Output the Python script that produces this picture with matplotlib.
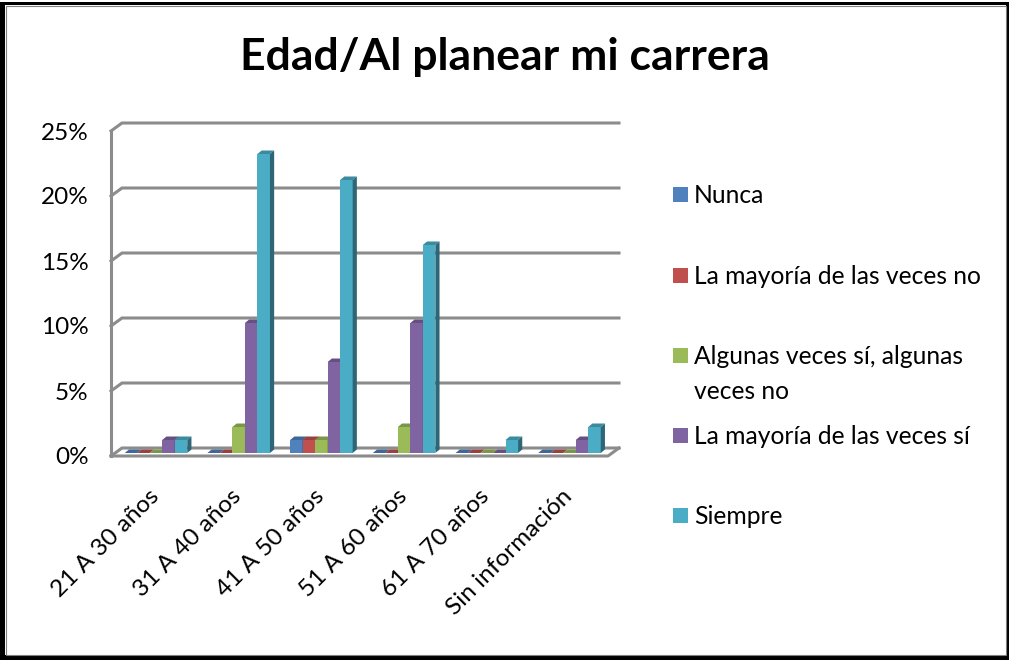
#!/usr/bin/env python3
# Faux-3D clustered column chart: Edad / Al planear mi carrera.

import matplotlib

matplotlib.use("Agg")
import matplotlib.pyplot as plt
from matplotlib.patches import Polygon, Rectangle
from matplotlib.transforms import ScaledTranslation

W, H = 1009, 660

categories = ["21 A 30 años", "31 A 40 años", "41 A 50 años", "51 A 60 años", "61 A 70 años", "Sin información"]
series_names = [
    "Nunca",
    "La mayoría de las veces no",
    "Algunas veces sí, algunas\nveces no",
    "La mayoría de las veces sí",
    "Siempre",
]
nunca = [0, 0, 1, 0, 0, 0]
mayoria_no = [0, 0, 1, 0, 0, 0]
algunas = [0, 2, 1, 2, 0, 0]
mayoria_si = [1, 10, 7, 10, 0, 1]
siempre = [1, 23, 21, 16, 1, 2]
series = [nunca, mayoria_no, algunas, mayoria_si, siempre]
y_ticks = [0, 5, 10, 15, 20, 25]

front = ["#4F81BD", "#C0504D", "#9BBB59", "#8064A2", "#4BACC6"]
top = ["#3F6797", "#9A403E", "#7C9647", "#665082", "#3C8A9E"]
side = ["#2F4D71", "#73302E", "#5D7035", "#4C3C61", "#2D6777"]
legend_y = [194, 275, 355, 435, 515]

FONT = "Lato"
GRID = "#8C8C8C"

fig = plt.figure(figsize=(W / 100, H / 100), dpi=100)

# axes box in pixels: left wall to back right corner, floor to top gridline
left, right, bottom, upper = 111, 619, 456, 123
ax = fig.add_axes([left / W, 1 - bottom / H, (right - left) / W, (bottom - upper) / H])
px_x = 82.7  # pixels per category
px_y = 13.0  # pixels per percent
ax.set_xlim((left - 156) / px_x, (right - 156) / px_x)
ax.set_ylim(-3 / px_y, 330 / px_y)
ax.patch.set_alpha(0)
for s in ax.spines.values():
    s.set_visible(False)

dx = 11 / px_x  # wall depth
dy = 8 / px_y
x0 = ax.get_xlim()[0]
x1 = ax.get_xlim()[1]
y0 = ax.get_ylim()[0]
lw = 2.2

# walls and gridlines
for v in y_ticks:
    ax.plot([x0, x0 + dx, x1], [v + y0, v + y0 + dy, v + y0 + dy], color=GRID, lw=lw,
            solid_joinstyle="miter", clip_on=False, zorder=1)
ax.plot([x0, x0], [y0, 25 + y0], color=GRID, lw=lw, clip_on=False, zorder=1)
ax.plot([x0, x1 - dx, x1], [y0, y0, y0 + dy], color=GRID, lw=lw, clip_on=False, zorder=1)

# columns with top and side faces
bw = 12.5 / px_x
bar_dx = 4.2 / px_x
bar_dy = 3.5 / px_y
for i, vals in enumerate(series):
    for j, v in enumerate(vals):
        xl = j + (i - 2.5) * bw
        xr = xl + bw
        ax.bar(xl, v, width=bw, align="edge", color=front[i], lw=0, zorder=3 + i)
        ax.add_patch(Polygon([(xl, v), (xl + bar_dx, v + bar_dy), (xr + bar_dx, v + bar_dy), (xr, v)],
                             fc=top[i], lw=0, zorder=3 + i))
        ax.add_patch(Polygon([(xr, 0), (xr + bar_dx, bar_dy), (xr + bar_dx, v + bar_dy), (xr, v)],
                             fc=side[i], lw=0, zorder=3 + i))

ax.set_yticks([v + y0 for v in y_ticks])
ax.set_yticklabels([f"{v}%" for v in y_ticks], fontsize=17.5, family=FONT, color="black")
ax.tick_params(axis="y", length=0, pad=16)
ax.set_xticks(range(len(categories)))
ax.set_xticklabels(categories, rotation=45, ha="right", rotation_mode="anchor",
                   fontsize=17.6, family=FONT, color="black")
ax.tick_params(axis="x", length=0, pad=21)
shift = ScaledTranslation(-8 / 100, 0, fig.dpi_scale_trans)
for t in ax.get_xticklabels():
    t.set_transform(t.get_transform() + shift)

fig.text(505 / W, 1 - 57 / H, "Edad/Al planear mi carrera", ha="center", va="center",
         fontsize=32, fontweight="bold", family=FONT, color="black")

# legend, spaced by hand because the wrapped entry breaks the rhythm
for name, c, yp in zip(series_names, front, legend_y):
    fig.add_artist(Rectangle((673 / W, 1 - (yp + 8) / H), 15 / W, 15 / H, transform=fig.transFigure,
                             fc=c, lw=0))
    fig.text(694 / W, 1 - (yp - 10) / H, name, ha="left", va="top", fontsize=17.7, family=FONT,
             color="black", linespacing=1.62)

# picture frame: uneven black band with a thin grey inner edge
for bx, by, bw_, bh in [(0, 2, 5, 658), (1006, 2, 3, 658), (0, 2, 1009, 3), (0, 655, 1009, 5)]:
    fig.add_artist(Rectangle((bx / W, 1 - (by + bh) / H), bw_ / W, bh / H, transform=fig.transFigure,
                             fc="black", lw=0))
fig.add_artist(Rectangle((5.5 / W, 1 - 654.5 / H), 1000 / W, 649 / H, transform=fig.transFigure,
                         fill=False, ec="#808080", lw=0.8))

fig.savefig("out.png", dpi=100)
